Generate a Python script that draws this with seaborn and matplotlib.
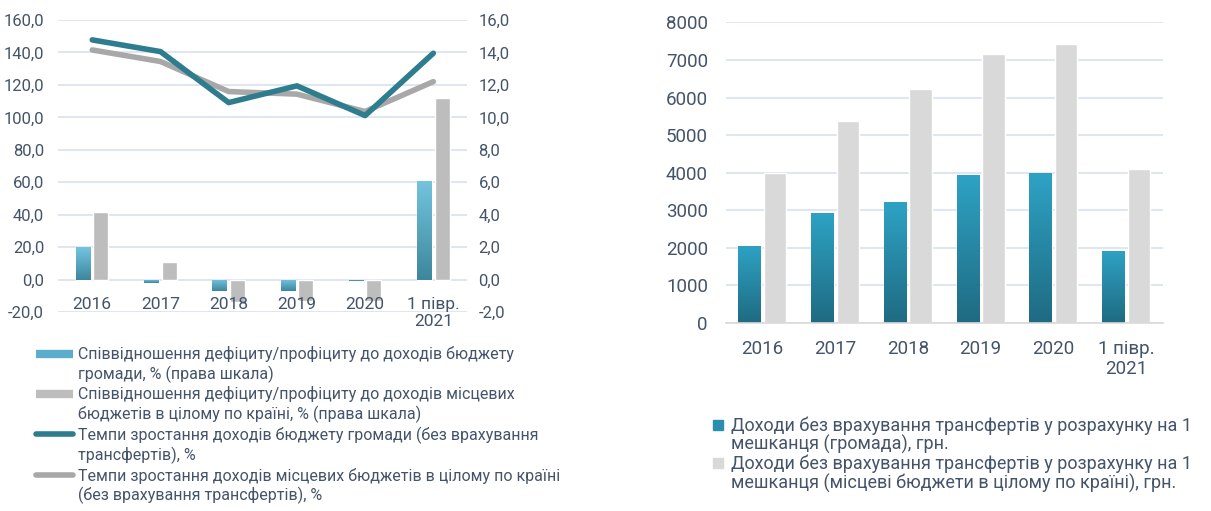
import numpy as np
import pandas as pd
import matplotlib.pyplot as plt
import seaborn as sns
from matplotlib.lines import Line2D
from matplotlib.colors import LinearSegmentedColormap
from matplotlib.ticker import FuncFormatter, MultipleLocator

sns.set_style("white")
plt.rcParams['font.family'] = ['Roboto', 'DejaVu Sans']

#%% data
periods = ['2016', '2017', '2018', '2019', '2020', '1 півр.\n2021']

# left chart: revenue growth rates, % (left scale)
growth_hromada = [147.7, 140.5, 109.1, 119.4, 101.1, 139.5]
growth_country = [141.5, 134.4, 115.9, 114.3, 103.6, 122.0]
# deficit/surplus to revenues ratio, % (right scale)
balance_hromada = [2.0, -0.2, -0.7, -0.7, -0.1, 6.1]
balance_country = [4.2, 1.1, -1.4, -1.3, -1.3, 11.2]

# right chart: revenues without transfers per resident, UAH
income_hromada = [2060, 2930, 3210, 3930, 3990, 1920]
income_country = [3980, 5390, 6220, 7160, 7440, 4090]

left_labels = [
    'Співвідношення дефіциту/профіциту до доходів бюджету\nгромади, % (права шкала)',
    'Співвідношення дефіциту/профіциту до доходів місцевих\nбюджетів в цілому по країні, % (права шкала)',
    'Темпи зростання доходів бюджету громади (без врахування\nтрансфертів), %',
    'Темпи зростання доходів місцевих бюджетів в цілому по країні\n(без врахування трансфертів), %',
]
right_labels = [
    'Доходи без врахування трансфертів у розрахунку на 1\nмешканця (громада), грн.',
    'Доходи без врахування трансфертів у розрахунку на 1\nмешканця (місцеві бюджети в цілому по країні), грн.',
]

text_color = '#44546a'
grid_color = '#d9e2f0'
teal = '#2d7d8e'
gray_line = '#a8a8a8'
gray_bar = '#bdbdbd'
light_gray = '#d9d9d9'

df_lines = pd.DataFrame({
    'period': periods * 2,
    'value': growth_country + growth_hromada,
    'series': ['country'] * 6 + ['hromada'] * 6,
})
df_balance = pd.DataFrame({
    'period': periods * 2,
    'value': balance_hromada + balance_country,
    'series': ['hromada'] * 6 + ['country'] * 6,
})
df_income = pd.DataFrame({
    'period': periods * 2,
    'value': income_hromada + income_country,
    'series': ['hromada'] * 6 + ['country'] * 6,
})


def comma(v, _):
    return f'{v:.1f}'.replace('.', ',')


def shade(ax, container, top, bottom):
    # vertical gradient fill clipped to each bar
    cmap = LinearSegmentedColormap.from_list('g', [bottom, top])
    grad = np.linspace(0, 1, 64).reshape(-1, 1)
    for bar in container:
        h = bar.get_height()
        if h == 0:
            continue
        x0, y0, w = bar.get_x(), bar.get_y(), bar.get_width()
        lo, hi = min(y0, y0 + h), max(y0, y0 + h)
        im = ax.imshow(grad, cmap=cmap, extent=[x0, x0 + w, lo, hi], origin='lower',
                       aspect='auto', zorder=bar.get_zorder() + 0.1)
        im.set_clip_path(bar)


def split_legend(labels, handles):
    hs, ls = [], []
    for lab, h in zip(labels, handles):
        lines = lab.split('\n')
        hs.append(h)
        ls.append(lines[0])
        for extra in lines[1:]:
            hs.append(Line2D([], [], color='none'))
            ls.append(extra)
    return hs, ls


fig = plt.figure(figsize=(12.11, 5.11), dpi=100)

#%% left chart
ax = fig.add_axes([0.048, 0.389, 0.338, 0.572])
ax2 = ax.twinx()

sns.lineplot(data=df_lines, x='period', y='value', hue='series', sort=False,
             palette={'country': gray_line, 'hromada': teal}, linewidth=4,
             ax=ax, legend=False)
for ln in ax.lines:
    ln.set_solid_capstyle('round')

sns.barplot(data=df_balance, x='period', y='value', hue='series',
            palette={'hromada': '#5aaecb', 'country': gray_bar},
            width=0.51, gap=0.14, ax=ax2, legend=False, saturation=1)
shade(ax2, ax2.containers[0], '#74c4df', '#3d879d')

ax.set_zorder(ax2.get_zorder() + 1)
ax.patch.set_visible(False)

ax.set_xlim(-0.5, len(periods) - 0.5)
ax.set_ylim(-20, 160)
ax2.set_ylim(-2, 16)
ax.yaxis.set_major_locator(MultipleLocator(20))
ax2.yaxis.set_major_locator(MultipleLocator(2))
ax.yaxis.set_major_formatter(FuncFormatter(comma))
ax2.yaxis.set_major_formatter(FuncFormatter(comma))
ax.grid(False)
ax2.grid(axis='y', color=grid_color, linewidth=1.2)
ax2.set_axisbelow(True)
for a in (ax, ax2):
    a.set_xlabel('')
    a.set_ylabel('')
    for s in a.spines.values():
        s.set_visible(False)
ax.tick_params(axis='y', length=0, pad=10, labelsize=12, labelcolor=text_color)
ax2.tick_params(axis='y', length=0, pad=8, labelsize=12, labelcolor=text_color)
ax.tick_params(axis='x', length=0, pad=-11, labelsize=12.5, labelcolor=text_color)

left_handles = [
    Line2D([], [], color='#5aaecb', lw=6, solid_capstyle='butt'),
    Line2D([], [], color=gray_bar, lw=6, solid_capstyle='butt'),
    Line2D([], [], color=teal, lw=4, solid_capstyle='round'),
    Line2D([], [], color=gray_line, lw=4, solid_capstyle='round'),
]
hs, ls = split_legend(left_labels, left_handles)
fig.legend(hs, ls, loc='upper left', bbox_to_anchor=(0.03, 0.322), frameon=False,
           fontsize=11.5, handlelength=2.3, handletextpad=0.3, labelspacing=0.21,
           borderpad=0, borderaxespad=0, labelcolor=text_color)

#%% right chart
axr = fig.add_axes([0.5995, 0.368, 0.3605, 0.588])
sns.barplot(data=df_income, x='period', y='value', hue='series',
            palette={'hromada': '#2a93b3', 'country': light_gray},
            width=0.70, gap=0.12, ax=axr, legend=False, saturation=1)
shade(axr, axr.containers[0], '#2ea2c4', '#1f6b82')
axr.set_xlim(-0.5, len(periods) - 0.5)
axr.set_ylim(0, 8000)
axr.yaxis.set_major_locator(MultipleLocator(1000))
axr.grid(axis='y', color=grid_color, linewidth=1.2)
axr.set_axisbelow(True)
axr.set_xlabel('')
axr.set_ylabel('')
for name, s in axr.spines.items():
    s.set_visible(name == 'bottom')
axr.spines['bottom'].set_color(light_gray)
axr.spines['bottom'].set_linewidth(1.2)
axr.tick_params(axis='y', length=0, pad=13, labelsize=13.5, labelcolor=text_color)
axr.tick_params(axis='x', length=0, pad=12, labelsize=13.5, labelcolor=text_color)

right_handles = [
    Line2D([], [], marker='s', ls='none', color='#2a8fae', markersize=7),
    Line2D([], [], marker='s', ls='none', color=light_gray, markersize=7),
]
hs, ls = split_legend(right_labels, right_handles)
fig.legend(hs, ls, loc='upper left', bbox_to_anchor=(0.588, 0.185), frameon=False,
           fontsize=13, handlelength=0.7, handletextpad=0.35, labelspacing=0.02,
           borderpad=0, borderaxespad=0, labelcolor=text_color)

fig.savefig('out.png', dpi=100, facecolor='white')
